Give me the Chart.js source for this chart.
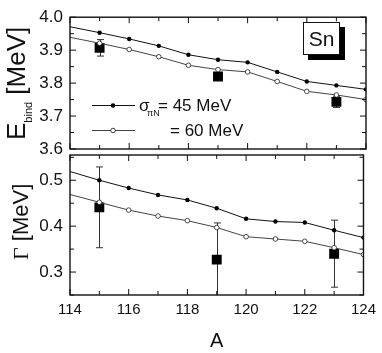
<!DOCTYPE html>
<html>
<head>
<meta charset="utf-8">
<script src="https://cdn.jsdelivr.net/npm/chart.js@4"></script>
<style>
    body { margin: 0; background: #fff; }
    .wrap { position: relative; width: 382px; height: 353px; }
    canvas { position: absolute; left: 0; top: 0; }
</style>
</head>
<body>
<div class="wrap">
    <canvas id="bind" width="382" height="353"></canvas>
    <canvas id="width" width="382" height="353"></canvas>
</div>
<script>
const massNumbers = [114, 115, 116, 117, 118, 119, 120, 121, 122, 123, 124];
const ebind45 = [3.971, 3.953, 3.934, 3.913, 3.886, 3.871, 3.863, 3.834, 3.805, 3.793, 3.781];
const ebind60 = [3.939, 3.921, 3.902, 3.880, 3.854, 3.841, 3.834, 3.805, 3.775, 3.764, 3.750];
const gamma45 = [0.519, 0.500, 0.483, 0.468, 0.457, 0.439, 0.416, 0.410, 0.408, 0.391, 0.375];
const gamma60 = [0.469, 0.452, 0.435, 0.422, 0.412, 0.397, 0.377, 0.372, 0.367, 0.353, 0.338];

const expA = [115, 119, 123];
const expEbind = [3.907, 3.820, 3.743];
const expEbindErr = [0.025, 0.012, 0.017];
const expGamma = [0.441, 0.327, 0.340];
const expGammaErr = [0.088, 0.080, 0.073];

const xTicks = [114, 116, 118, 120, 122, 124];
const ebindTicks = [3.6, 3.7, 3.8, 3.9, 4.0];
const gammaTicks = [0.3, 0.4, 0.5];

Chart.defaults.font.family = "'Liberation Sans', Arial, sans-serif";
Chart.defaults.color = "#111";

const toPoints = (ys) => ys.map((y, i) => ({ x: massNumbers[i], y: y }));
const expPoints = (ys) => ys.map((y, i) => ({ x: expA[i], y: y }));

// box, inward ticks on all four sides
const framePlugin = {
    id: "frame",
    afterDatasetsDraw(chart) {
        const { ctx, chartArea: a } = chart;
        const x = chart.scales.x;
        const y = chart.scales.y;
        ctx.save();
        ctx.strokeStyle = "#111";
        ctx.lineWidth = 1;
        ctx.beginPath();
        for (let v = 114; v <= 124; v++) {
            const px = x.getPixelForValue(v);
            const len = v % 2 === 0 ? 6 : 4;
            ctx.moveTo(px, a.bottom);
            ctx.lineTo(px, a.bottom - len);
            ctx.moveTo(px, a.top);
            ctx.lineTo(px, a.top + len);
        }
        const lo = Math.ceil(y.min / 0.05 - 1e-6);
        const hi = Math.floor(y.max / 0.05 + 1e-6);
        for (let k = lo; k <= hi; k++) {
            const py = y.getPixelForValue(k * 0.05);
            const len = k % 2 === 0 ? 6 : 4;
            ctx.moveTo(a.left, py);
            ctx.lineTo(a.left + len, py);
            ctx.moveTo(a.right, py);
            ctx.lineTo(a.right - len, py);
        }
        ctx.stroke();
        ctx.lineWidth = 1.4;
        ctx.strokeRect(a.left, a.top, a.right - a.left, a.bottom - a.top);
        ctx.restore();
    },
};

const errorBarPlugin = {
    id: "errorBars",
    beforeDatasetsDraw(chart, args, opts) {
        const { ctx, chartArea: a } = chart;
        const x = chart.scales.x;
        const y = chart.scales.y;
        ctx.save();
        ctx.beginPath();
        ctx.rect(a.left, a.top, a.right - a.left, a.bottom - a.top);
        ctx.clip();
        ctx.strokeStyle = "#333";
        ctx.lineWidth = 1;
        ctx.beginPath();
        opts.values.forEach((v, i) => {
            const px = Math.round(x.getPixelForValue(expA[i])) + 0.5;
            const top = y.getPixelForValue(v + opts.errors[i]);
            const bot = y.getPixelForValue(v - opts.errors[i]);
            ctx.moveTo(px, top);
            ctx.lineTo(px, bot);
            ctx.moveTo(px - 3.5, top);
            ctx.lineTo(px + 3.5, top);
            ctx.moveTo(px - 3.5, bot);
            ctx.lineTo(px + 3.5, bot);
        });
        ctx.stroke();
        ctx.restore();
    },
};

const yTitlePlugin = {
    id: "yTitle",
    afterDraw(chart, args, opts) {
        const ctx = chart.ctx;
        ctx.save();
        ctx.translate(opts.x, opts.y);
        ctx.rotate(-Math.PI / 2);
        ctx.fillStyle = "#111";
        ctx.textAlign = "left";
        ctx.textBaseline = "alphabetic";
        let pos = 0;
        opts.parts.forEach((p) => {
            ctx.font = p.font;
            ctx.fillText(p.text, pos, p.dy || 0);
            pos += ctx.measureText(p.text).width;
        });
        ctx.restore();
    },
};

const bindExtras = {
    id: "bindExtras",
    afterDraw(chart) {
        const ctx = chart.ctx;
        ctx.save();
        // Sn label with drop shadow
        ctx.fillStyle = "#000";
        ctx.fillRect(308, 27, 37, 33);
        ctx.fillStyle = "#fff";
        ctx.fillRect(303, 22, 37, 33);
        ctx.strokeStyle = "#111";
        ctx.lineWidth = 1;
        ctx.strokeRect(303.5, 22.5, 36, 32);
        ctx.fillStyle = "#111";
        ctx.font = "21px 'Liberation Sans', Arial, sans-serif";
        ctx.textAlign = "center";
        ctx.fillText("Sn", 321.5, 46);

        // legend
        ctx.lineWidth = 1;
        ctx.strokeStyle = "#111";
        ctx.beginPath();
        ctx.moveTo(92, 105.5);
        ctx.lineTo(135, 105.5);
        ctx.stroke();
        ctx.strokeStyle = "#444";
        ctx.beginPath();
        ctx.moveTo(92, 130.5);
        ctx.lineTo(135, 130.5);
        ctx.stroke();
        ctx.fillStyle = "#000";
        ctx.beginPath();
        ctx.arc(113, 105.5, 2.3, 0, Math.PI * 2);
        ctx.fill();
        ctx.fillStyle = "#fff";
        ctx.strokeStyle = "#111";
        ctx.lineWidth = 0.8;
        ctx.beginPath();
        ctx.arc(113, 130.5, 2.3, 0, Math.PI * 2);
        ctx.fill();
        ctx.stroke();

        ctx.fillStyle = "#111";
        ctx.textAlign = "left";
        ctx.font = "17px 'Liberation Sans', Arial, sans-serif";
        ctx.fillText("\u03c3", 139, 111);
        ctx.font = "9px 'Liberation Sans', Arial, sans-serif";
        ctx.fillText("\u03c0N", 147, 116);
        ctx.font = "17px 'Liberation Sans', Arial, sans-serif";
        ctx.fillText("= 45 MeV", 158, 111);
        ctx.fillText("= 60 MeV", 170, 136);
        ctx.restore();
    },
};

function seriesSets(s45, s60, expVals) {
    return [
        {
            data: toPoints(s45),
            borderColor: "#111",
            borderWidth: 1,
            backgroundColor: "#000",
            pointBackgroundColor: "#000",
            pointBorderWidth: 0,
            pointRadius: (c) => (c.dataIndex === 0 ? 0 : 2.2),
        },
        {
            data: toPoints(s60),
            borderColor: "#444",
            borderWidth: 1,
            pointBackgroundColor: "#fff",
            pointBorderColor: "#222",
            pointBorderWidth: 0.8,
            pointRadius: (c) => (c.dataIndex === 0 ? 0 : 2.3),
        },
        {
            data: expPoints(expVals),
            showLine: false,
            pointStyle: "rect",
            pointRadius: 7,
            pointBackgroundColor: "#000",
            pointBorderWidth: 0,
        },
    ];
}

const bindChart = new Chart(document.getElementById("bind"), {
    type: "line",
    data: { datasets: seriesSets(ebind45, ebind60, expEbind) },
    options: {
        responsive: false,
        animation: false,
        layout: { padding: { left: 0, right: 16, top: 10, bottom: 204 } },
        plugins: {
            legend: { display: false },
            tooltip: { enabled: false },
            errorBars: { values: expEbind, errors: expEbindErr },
            yTitle: {
                x: 25,
                y: 140,
                parts: [
                    { text: "E", font: "26px 'Liberation Sans', Arial, sans-serif" },
                    { text: "bind", font: "11px 'Liberation Sans', Arial, sans-serif", dy: 7 },
                    { text: " [MeV]", font: "26px 'Liberation Sans', Arial, sans-serif" },
                ],
            },
        },
        scales: {
            x: { type: "linear", min: 114, max: 124, display: false },
            y: {
                min: 3.6,
                max: 4.0,
                afterFit: (s) => { s.width = 70; },
                afterBuildTicks: (s) => { s.ticks = ebindTicks.map((v) => ({ value: v })); },
                grid: { display: false, drawTicks: false },
                border: { display: false },
                ticks: { font: { size: 17 }, padding: 7, callback: (v) => v.toFixed(1) },
            },
        },
    },
    plugins: [errorBarPlugin, framePlugin, yTitlePlugin, bindExtras],
});

const widthChart = new Chart(document.getElementById("width"), {
    type: "line",
    data: { datasets: seriesSets(gamma45, gamma60, expGamma) },
    options: {
        responsive: false,
        animation: false,
        layout: { padding: { left: 0, right: 16, top: 155, bottom: 0 } },
        plugins: {
            legend: { display: false },
            tooltip: { enabled: false },
            errorBars: { values: expGamma, errors: expGammaErr },
            yTitle: {
                x: 28,
                y: 260,
                parts: [
                    { text: "\u0393", font: "22px 'Liberation Serif', 'Times New Roman', serif" },
                    { text: " [MeV]", font: "22px 'Liberation Sans', Arial, sans-serif" },
                ],
            },
        },
        scales: {
            x: {
                type: "linear",
                min: 114,
                max: 124,
                afterFit: (s) => { s.height = 58; },
                afterBuildTicks: (s) => { s.ticks = xTicks.map((v) => ({ value: v })); },
                grid: { display: false, drawTicks: false },
                border: { display: false },
                ticks: { font: { size: 15 }, padding: 6, maxRotation: 0 },
                title: { display: true, text: "A", font: { size: 20 }, padding: { top: 0, bottom: 0 } },
            },
            y: {
                min: 0.25,
                max: 0.555,
                afterFit: (s) => { s.width = 70; },
                afterBuildTicks: (s) => { s.ticks = gammaTicks.map((v) => ({ value: v })); },
                grid: { display: false, drawTicks: false },
                border: { display: false },
                ticks: { font: { size: 17 }, padding: 7, callback: (v) => v.toFixed(1) },
            },
        },
    },
    plugins: [errorBarPlugin, framePlugin, yTitlePlugin],
});
</script>
</body>
</html>
